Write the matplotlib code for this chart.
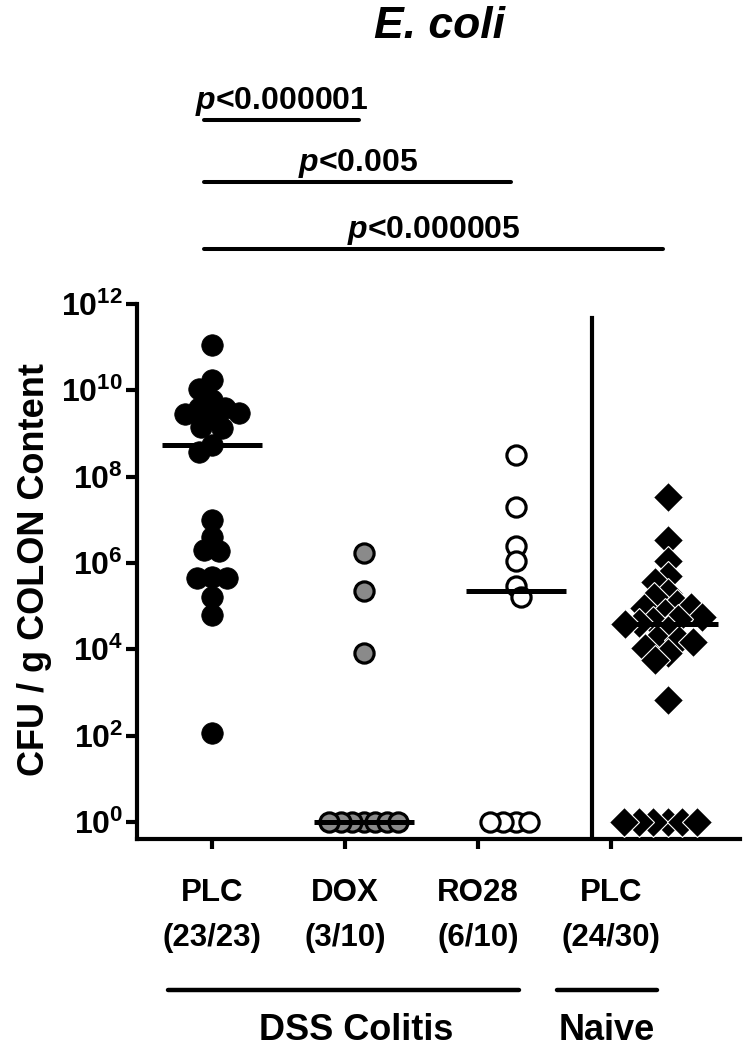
import numpy as np
import matplotlib
matplotlib.use('Agg')
import matplotlib.pyplot as plt
from matplotlib.transforms import blended_transform_factory

plt.rcParams['font.family'] = ['Liberation Sans', 'DejaVu Sans']
plt.rcParams['mathtext.fontset'] = 'custom'
plt.rcParams['mathtext.rm'] = 'Liberation Sans:bold'
plt.rcParams['mathtext.bf'] = 'Liberation Sans:bold'
plt.rcParams['mathtext.it'] = 'Liberation Sans:italic:bold'

# data (CFU / g colon content), zeros plotted at 10^0
plc = [1.1e11, 1.7e10, 1.1e10, 6e9, 4e9, 3.9e9, 3e9, 2.9e9, 2.4e9, 1.4e9, 1.35e9, 5.4e8, 3.7e8,
       1e7, 4e6, 2e6, 1.9e6, 4.7e5, 4.5e5, 4.4e5, 1.6e5, 6.3e4, 115]
dox = [1.7e6, 2.2e5, 8.1e3, 1, 1, 1, 1, 1, 1, 1]
ro28 = [3.2e8, 2e7, 2.5e6, 1.1e6, 3e5, 1.6e5, 1, 1, 1, 1]
naive = [3.4e7, 3.4e6, 1.1e6, 5e5, 3.6e5, 2e5, 1.6e5, 1.1e5, 9.5e4, 9.1e4, 7e4, 5.6e4, 5e4, 4.5e4,
         4e4, 3.8e4, 2.8e4, 1.7e4, 1.65e4, 1.5e4, 1.07e4, 8.1e3, 5.6e3, 680, 1, 1, 1, 1, 1, 1]

groups = ['PLC', 'DOX', 'RO28', 'PLC']
counts = ['(23/23)', '(3/10)', '(6/10)', '(24/30)']
pvals = [r'$\mathit{p}$<0.000001', r'$\mathit{p}$<0.005', r'$\mathit{p}$<0.000005']

W, H = 750, 1058
fig = plt.figure(figsize=(W / 100, H / 100), dpi=100)
ax = fig.add_axes([137 / W, 1 - 839 / H, (740 - 137) / W, (839 - 304) / H])
fy = lambda y: 1 - y / H   # pixel row -> figure fraction

ax.set_yscale('log')
ax.set_ylim(10 ** -0.394, 1e12)
ax.set_xlim(-0.493, 3.474)


def swarm(x0, vals, mind=13.0):
    # simple beeswarm in pixel space
    vals = np.asarray(vals, dtype=float)
    pts = ax.transData.transform(np.column_stack([np.full(len(vals), x0), vals]))
    xs = np.empty(len(vals))
    placed = []
    for i in np.argsort(-vals, kind='stable'):
        cx, cy = pts[i]
        cands = [cx]
        for px, py in placed:
            dy = abs(py - cy)
            if dy < mind:
                dx = np.sqrt(mind ** 2 - dy ** 2)
                cands += [px - dx, px + dx]
        cands.sort(key=lambda c: (abs(c - cx), c))
        for c in cands:
            if all((c - px) ** 2 + (cy - py) ** 2 >= mind ** 2 - 1e-6 for px, py in placed):
                break
        placed.append((c, cy))
        xs[i] = c
    return ax.transData.inverted().transform(np.column_stack([xs, pts[:, 1]]))[:, 0]


styles = [
    dict(marker='o', ms=15.5, mfc='black', mec='black', mew=0.5),
    dict(marker='o', ms=13.8, mfc='#8a8a8a', mec='black', mew=2.3),
    dict(marker='o', ms=13.8, mfc='white', mec='black', mew=2.3),
    dict(marker='D', ms=15.5, mfc='black', mec='white', mew=0.8),
]
spacing = [15, 11.5, 13, 14.5]
for i, (vals, st) in enumerate(zip([plc, dox, ro28, naive], styles)):
    xs = swarm(i, vals, spacing[i])
    ax.plot(xs, vals, ls='none', zorder=3, **st)
    ax.plot([i - 0.33, i + 0.33], [np.median(vals)] * 2, color='black', lw=3.6, zorder=4,
            solid_capstyle='butt')

# separator between DSS and naive groups
ax.axvline(2.5, ymin=0, ymax=0.974, color='black', lw=3)

# axes style
for s in ['top', 'right']:
    ax.spines[s].set_visible(False)
for s in ['left', 'bottom']:
    ax.spines[s].set_linewidth(3)
ax.set_yticks([10.0 ** k for k in range(0, 13, 2)])
ax.set_yticklabels([r'$\mathbf{10^{%d}}$' % k for k in range(0, 13, 2)], fontsize=23)
ax.minorticks_off()
ax.tick_params(axis='y', length=8, width=3, pad=2)
label_pos = np.arange(4) * 0.875
ax.set_xticks(label_pos)
ax.set_xticklabels([])
ax.tick_params(axis='x', length=7, width=3)

fig.text(35 / W, fy(570), 'CFU / g COLON Content', rotation=90, ha='center', va='center',
         fontsize=26, fontweight='bold')

bt = blended_transform_factory(ax.transData, fig.transFigure)

# group labels
for x, g, c in zip(label_pos, groups, counts):
    ax.text(x, fy(893), g, transform=bt, ha='center', va='center', fontsize=22.5, fontweight='bold')
    ax.text(x, fy(938), c, transform=bt, ha='center', va='center', fontsize=22.5, fontweight='bold')

ax.plot([-0.29, 2.02], [fy(990)] * 2, transform=bt, color='black', lw=3.2,
        solid_capstyle='round', clip_on=False)
ax.plot([2.27, 2.93], [fy(990)] * 2, transform=bt, color='black', lw=3.2,
        solid_capstyle='round', clip_on=False)
ax.text(0.95, fy(1030), 'DSS Colitis', transform=bt, ha='center', va='center', fontsize=26,
        fontweight='bold')
ax.text(2.6, fy(1030), 'Naive', transform=bt, ha='center', va='center', fontsize=26,
        fontweight='bold')

# significance bars
bar_y = [120, 182, 249]
for k, (p, y) in enumerate(zip(pvals, bar_y)):
    x1, x2 = -0.05, k + 1 - 0.03
    ax.plot([x1, x2], [fy(y)] * 2, transform=bt, color='black', lw=2.9,
            solid_capstyle='round', clip_on=False)
    ax.text((x1 + x2) / 2, fy(y - 11), p, transform=bt, ha='center', va='baseline',
            fontsize=23, fontweight='bold')

fig.text(440 / W, fy(26), 'E. coli', ha='center', va='center', fontsize=32,
         fontweight='bold', fontstyle='italic')

fig.savefig('out.png', dpi=100)
